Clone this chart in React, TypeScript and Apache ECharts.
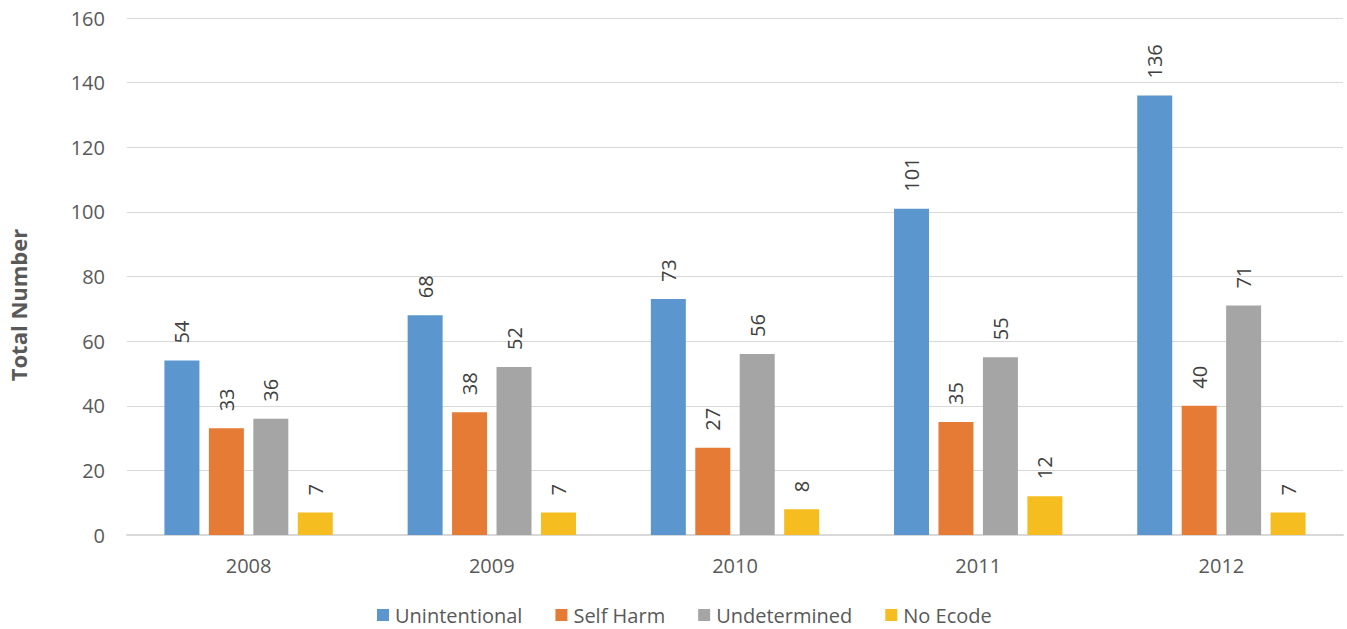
import React, { useEffect, useRef } from "react";
import * as echarts from "echarts";

const categories = ["2008", "2009", "2010", "2011", "2012"];
const unintentional = [54, 68, 73, 101, 136];
const selfHarm = [33, 38, 27, 35, 40];
const undetermined = [36, 52, 56, 55, 71];
const noEcode = [7, 7, 8, 12, 7];
const seriesNames = ["Unintentional", "Self Harm", "Undetermined", "No Ecode"];
const colors = ["#5B97CE", "#E67B35", "#A5A5A5", "#F6BD20"];

const FONT = "'Open Sans', 'Liberation Sans', sans-serif";

export default function App() {
  const ref = useRef<HTMLDivElement>(null);
  useEffect(() => {
    if (!ref.current) return;
    const chart = echarts.init(ref.current, undefined, { renderer: "svg" });
    const datasets = [unintentional, selfHarm, undetermined, noEcode];
    chart.setOption({
      animation: false,
      textStyle: { fontFamily: FONT },
      grid: { left: 127, right: 4, top: 18, bottom: 94, containLabel: false },
      legend: {
        left: 377,
        top: 605,
        padding: 0,
        itemWidth: 12,
        itemHeight: 12,
        itemGap: 33,
        icon: "rect",
        textStyle: { fontSize: 20, color: "#595959", fontFamily: FONT, padding: [0, 0, 0, 1] },
        data: seriesNames,
      },
      graphic: [
        {
          type: "text",
          x: 18,
          y: 305,
          rotation: Math.PI / 2,
          style: {
            text: "Total Number",
            font: `bold 22px ${FONT}`,
            fill: "#595959",
            align: "center",
            verticalAlign: "middle",
          },
        },
      ],
      xAxis: {
        type: "category",
        data: categories,
        axisLine: { lineStyle: { color: "#D9D9D9", width: 2 } },
        axisTick: { show: false },
        axisLabel: { color: "#595959", fontSize: 20, margin: 20, fontFamily: FONT },
      },
      yAxis: {
        type: "value",
        min: 0,
        max: 160,
        interval: 20,
        axisLine: { show: false },
        axisTick: { show: false },
        axisLabel: { color: "#595959", fontSize: 20, margin: 22, fontFamily: FONT },
        splitLine: { lineStyle: { color: "#D9D9D9", width: 1 } },
      },
      series: datasets.map((d, i) => ({
        name: seriesNames[i],
        type: "bar",
        data: d,
        barWidth: 35,
        barGap: "27%",
        itemStyle: { color: colors[i] },
        label: {
          show: true,
          position: "top",
          rotate: 90,
          align: "left",
          verticalAlign: "middle",
          distance: 17,
          fontSize: 20,
          color: "#404040",
          fontFamily: FONT,
        },
      })),
    });
    return () => chart.dispose();
  }, []);
  return (
    <div
      ref={ref}
      style={{ position: "fixed", left: 0, top: 0, width: 1347, height: 629, background: "#fff" }}
    />
  );
}
